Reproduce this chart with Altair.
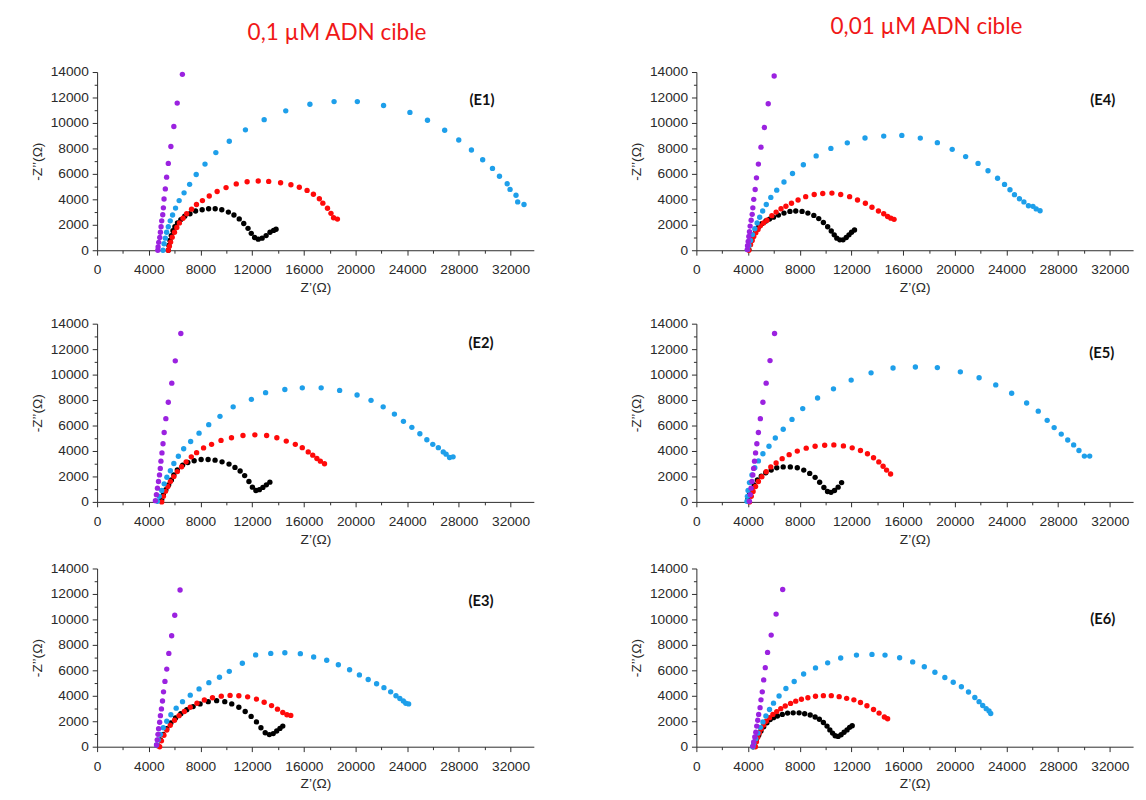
import altair as alt
import pandas as pd

# ---------------- data ----------------
SERIES = ["black", "red", "blue", "violet"]
COLORS = ["#000000", "#FF0A0A", "#1E9FEA", "#9B22E0"]

X_MAJOR = [0, 4000, 8000, 12000, 16000, 20000, 24000, 28000, 32000]
X_MINOR = [2000, 6000, 10000, 14000, 18000, 22000, 26000, 30000]
Y_MAJOR = [0, 2000, 4000, 6000, 8000, 10000, 12000, 14000]
Y_MINOR = [1000, 3000, 5000, 7000, 9000, 11000, 13000]

# ---- E1 ----
E1_black_x = [5510, 5560, 5640, 5740, 5870, 6020, 6220, 6480, 6780, 7190, 7620, 8130, 8630, 9140, 9650, 10160, 10590, 11000, 11350, 11680, 11930, 12190, 12470, 12770, 13080, 13380, 13660, 13850]
E1_black_y = [0, 380, 770, 1150, 1540, 1850, 2150, 2410, 2670, 2870, 3080, 3180, 3260, 3260, 3180, 3000, 2770, 2460, 2100, 1720, 1330, 1000, 870, 950, 1150, 1410, 1560, 1650]
E1_red_x = [5510, 5590, 5690, 5810, 5990, 6170, 6370, 6650, 6930, 7310, 7690, 8150, 8680, 9290, 9980, 10770, 11610, 12470, 13280, 14200, 15000, 15650, 16250, 16740, 17200, 17470, 17830, 18100, 18300, 18600]
E1_red_y = [0, 310, 640, 1030, 1410, 1790, 2150, 2510, 2870, 3230, 3590, 3900, 4260, 4620, 4920, 5210, 5380, 5440, 5410, 5300, 5150, 4950, 4700, 4400, 4050, 3700, 3300, 2900, 2550, 2450]
E1_blue_x = [5100, 5180, 5280, 5380, 5510, 5660, 5840, 6070, 6350, 6730, 7160, 7670, 8350, 9190, 10230, 11480, 12930, 14600, 16470, 18340, 20140, 22170, 24210, 25570, 26900, 27990, 28970, 29840, 30600, 31140, 31740, 31960, 32420, 32550, 33040]
E1_blue_y = [0, 510, 950, 1410, 1850, 2310, 2770, 3310, 3900, 4510, 5180, 5950, 6770, 7670, 8560, 9460, 10260, 10950, 11470, 11680, 11680, 11370, 10830, 10210, 9430, 8660, 7880, 7110, 6430, 5810, 5220, 4780, 4320, 3800, 3590]
E1_violet_x = [4700, 4720, 4770, 4850, 4900, 4950, 5000, 5080, 5130, 5180, 5280, 5380, 5510, 5710, 5940, 6200, 6600]
E1_violet_y = [0, 260, 620, 1000, 1410, 1850, 2310, 2790, 3330, 4030, 4820, 5740, 6820, 8150, 9720, 11560, 13820]

# ---- E2 ----
E2_black_x = [5000, 5130, 5320, 5540, 5750, 5940, 6210, 6620, 7020, 7510, 8050, 8590, 9130, 9670, 10210, 10670, 11070, 11420, 11750, 12020, 12290, 12560, 12830, 13100, 13370]
E2_black_y = [180, 570, 960, 1340, 1730, 2120, 2510, 2890, 3100, 3230, 3330, 3330, 3280, 3150, 2970, 2710, 2430, 2070, 1600, 1160, 900, 960, 1140, 1340, 1550]
E2_red_x = [5000, 5130, 5290, 5480, 5670, 5940, 6210, 6540, 6890, 7290, 7700, 8240, 8860, 9590, 10400, 11290, 12210, 13120, 13910, 14640, 15340, 15880, 16340, 16690, 17010, 17280, 17600]
E2_red_y = [0, 440, 830, 1210, 1600, 1990, 2380, 2760, 3150, 3540, 3870, 4240, 4520, 4830, 5040, 5220, 5270, 5220, 5040, 4780, 4520, 4260, 3930, 3670, 3410, 3200, 3000]
E2_blue_x = [4670, 4810, 5000, 5190, 5400, 5670, 5940, 6290, 6700, 7240, 7890, 8640, 9510, 10530, 11940, 13040, 14530, 15880, 17340, 18770, 20120, 21200, 22140, 23010, 23710, 24360, 24980, 25520, 25980, 26410, 26790, 27010, 27280, 27550]
E2_blue_y = [50, 440, 900, 1420, 1940, 2450, 3020, 3590, 4180, 4750, 5400, 6070, 6720, 7470, 8060, 8580, 8830, 8960, 8960, 8760, 8400, 7980, 7470, 6900, 6330, 5860, 5350, 4880, 4520, 4260, 3930, 3750, 3490, 3540]
E2_violet_x = [4510, 4590, 4670, 4750, 4830, 4890, 4940, 5020, 5100, 5190, 5320, 5510, 5780, 6050, 6480]
E2_violet_y = [100, 570, 1080, 1600, 2120, 2630, 3200, 3850, 4570, 5450, 6540, 7830, 9330, 11080, 13230]

# ---- E3 ----
E3_black_x = [4710, 4900, 5120, 5390, 5710, 6070, 6480, 6940, 7430, 7970, 8600, 9250, 9880, 10420, 10970, 11460, 11920, 12330, 12680, 13010, 13330, 13630, 13900, 14150, 14370]
E3_black_y = [80, 540, 970, 1410, 1870, 2260, 2590, 2900, 3150, 3360, 3540, 3620, 3540, 3360, 3100, 2770, 2380, 1950, 1490, 1100, 950, 1030, 1230, 1440, 1620]
E3_red_x = [4840, 4980, 5170, 5390, 5660, 5990, 6340, 6750, 7210, 7730, 8300, 8930, 9610, 10290, 10970, 11650, 12330, 12930, 13500, 13960, 14370, 14690, 14990]
E3_red_y = [0, 460, 900, 1310, 1690, 2080, 2440, 2770, 3100, 3410, 3670, 3850, 3970, 4030, 4000, 3920, 3740, 3490, 3230, 2950, 2690, 2510, 2460]
E3_blue_x = [4600, 4730, 4900, 5120, 5390, 5710, 6120, 6610, 7210, 7890, 8650, 9470, 10230, 11240, 12270, 13440, 14530, 15730, 16760, 17770, 18670, 19540, 20300, 20980, 21630, 22200, 22720, 23130, 23430, 23700, 23890, 24110]
E3_blue_y = [130, 540, 970, 1490, 2000, 2510, 3030, 3540, 4050, 4540, 5030, 5460, 5920, 6560, 7210, 7330, 7380, 7310, 7050, 6790, 6440, 6050, 5640, 5280, 4950, 4640, 4310, 4000, 3790, 3590, 3410, 3360]
E3_violet_x = [4600, 4650, 4710, 4760, 4840, 4900, 4980, 5060, 5140, 5250, 5390, 5550, 5770, 6010, 6420]
E3_violet_y = [130, 540, 970, 1410, 1920, 2440, 2970, 3590, 4310, 5130, 6100, 7330, 8720, 10330, 12310]

# ---- E4 ----
E4_black_x = [4060, 4150, 4260, 4400, 4580, 4800, 5060, 5380, 5660, 5970, 6350, 6780, 7240, 7690, 8180, 8630, 9090, 9470, 9830, 10160, 10440, 10670, 10870, 11100, 11350, 11600, 11810, 12010, 12240]
E4_black_y = [50, 450, 820, 1180, 1520, 1820, 2080, 2300, 2450, 2600, 2760, 2920, 3050, 3080, 3050, 2920, 2740, 2490, 2180, 1850, 1510, 1210, 950, 820, 820, 1000, 1210, 1410, 1590]
E4_red_x = [4060, 4190, 4320, 4440, 4600, 4770, 4950, 5200, 5460, 5840, 6170, 6550, 6930, 7360, 7870, 8460, 9120, 9780, 10490, 11170, 11860, 12470, 13080, 13590, 14090, 14500, 14800, 15050, 15300]
E4_red_y = [0, 440, 770, 1080, 1380, 1640, 1920, 2150, 2360, 2720, 3000, 3260, 3460, 3690, 3950, 4210, 4380, 4460, 4490, 4380, 4210, 3950, 3690, 3380, 3080, 2870, 2650, 2520, 2430]
E4_blue_x = [3960, 4060, 4190, 4340, 4520, 4700, 4900, 5130, 5410, 5760, 6220, 6780, 7440, 8280, 9270, 10410, 11680, 13050, 14500, 15900, 17330, 18650, 19800, 20840, 21800, 22570, 23310, 23850, 24270, 24620, 25000, 25350, 25700, 26050, 26300, 26600]
E4_blue_y = [50, 380, 770, 1230, 1690, 2150, 2590, 3080, 3590, 4150, 4720, 5360, 6030, 6720, 7410, 8000, 8440, 8820, 8970, 9020, 8810, 8450, 7930, 7360, 6820, 6250, 5660, 5170, 4750, 4370, 4050, 3800, 3500, 3450, 3250, 3100]
E4_violet_x = [3940, 3960, 4010, 4060, 4110, 4160, 4240, 4320, 4370, 4440, 4550, 4650, 4800, 5000, 5260, 5560, 6020]
E4_violet_y = [50, 360, 690, 1080, 1460, 1900, 2360, 2820, 3330, 4000, 4770, 5690, 6770, 8100, 9640, 11510, 13690]

# ---- E5 ----
E5_black_x = [3980, 4110, 4280, 4470, 4720, 5020, 5370, 5790, 6220, 6720, 7270, 7810, 8310, 8770, 9190, 9540, 9870, 10150, 10420, 10690, 10970, 11240]
E5_black_y = [180, 570, 950, 1340, 1720, 2030, 2290, 2500, 2680, 2750, 2750, 2680, 2500, 2240, 1930, 1540, 1130, 820, 750, 900, 1160, 1520]
E5_red_x = [4110, 4250, 4390, 4580, 4800, 5070, 5400, 5760, 6170, 6640, 7180, 7810, 8500, 9190, 9930, 10640, 11380, 12060, 12700, 13240, 13710, 14120, 14450, 14720, 15030]
E5_red_y = [0, 440, 820, 1210, 1600, 1980, 2370, 2750, 3060, 3400, 3710, 3990, 4220, 4370, 4450, 4480, 4400, 4250, 4040, 3780, 3470, 3140, 2800, 2500, 2190]
E5_blue_x = [3920, 3950, 4000, 4110, 4300, 4520, 4800, 5150, 5620, 6110, 6720, 7400, 8230, 9380, 10610, 11980, 13520, 15220, 16950, 18650, 20430, 21880, 23170, 24400, 25560, 26460, 27150, 27690, 28240, 28740, 29200, 29610, 30030, 30440]
E5_blue_y = [50, 440, 900, 1520, 2110, 2680, 3220, 3780, 4370, 5020, 5710, 6480, 7330, 8160, 8880, 9570, 10140, 10520, 10600, 10550, 10220, 9750, 9190, 8540, 7770, 7130, 6410, 5840, 5330, 4860, 4480, 4040, 3600, 3600]
E5_violet_x = [4100, 4170, 4230, 4300, 4370, 4430, 4500, 4580, 4680, 4800, 4950, 5150, 5400, 5700, 6050]
E5_violet_y = [50, 570, 1080, 1600, 2120, 2630, 3200, 3850, 4570, 5450, 6540, 7830, 9330, 11100, 13230]

# ---- E6 ----
E6_black_x = [4390, 4490, 4650, 4820, 5000, 5210, 5460, 5710, 5970, 6270, 6650, 7060, 7490, 7950, 8380, 8810, 9190, 9520, 9830, 10110, 10330, 10540, 10740, 10970, 11200, 11430, 11660, 11860, 12060]
E6_black_y = [0, 250, 560, 910, 1240, 1570, 1880, 2130, 2280, 2410, 2540, 2640, 2660, 2660, 2590, 2490, 2330, 2160, 1900, 1620, 1320, 1070, 860, 810, 940, 1140, 1320, 1520, 1650]
E6_red_x = [4570, 4650, 4750, 4880, 5030, 5210, 5410, 5660, 5920, 6220, 6530, 6880, 7290, 7690, 8130, 8630, 9220, 9830, 10440, 11050, 11630, 12190, 12700, 13200, 13710, 14140, 14550, 14800]
E6_red_y = [0, 380, 740, 1070, 1390, 1700, 2000, 2280, 2540, 2760, 2990, 3200, 3400, 3580, 3730, 3850, 3960, 4010, 4010, 3930, 3800, 3680, 3470, 3220, 2920, 2640, 2330, 2200]
E6_blue_x = [4370, 4440, 4600, 4770, 4950, 5150, 5380, 5660, 5970, 6400, 6930, 7570, 8300, 9220, 10160, 11170, 12390, 13590, 14600, 15730, 16740, 17640, 18460, 19230, 19880, 20510, 21060, 21550, 21880, 22160, 22430, 22650, 22780]
E6_blue_y = [0, 250, 630, 1070, 1520, 1950, 2410, 2920, 3420, 3980, 4570, 5120, 5710, 6190, 6590, 6970, 7200, 7250, 7200, 6990, 6660, 6280, 5850, 5440, 5060, 4710, 4300, 3870, 3540, 3240, 2990, 2810, 2610]
E6_violet_x = [4370, 4440, 4520, 4600, 4670, 4750, 4820, 4930, 5000, 5100, 5210, 5330, 5510, 5790, 6170, 6680]
E6_violet_y = [50, 380, 760, 1140, 1620, 2080, 2540, 3070, 3680, 4310, 5250, 6210, 7410, 8770, 10420, 12350]

DATA = {
    "E1": {"black": (E1_black_x, E1_black_y), "red": (E1_red_x, E1_red_y), "blue": (E1_blue_x, E1_blue_y), "violet": (E1_violet_x, E1_violet_y)},
    "E2": {"black": (E2_black_x, E2_black_y), "red": (E2_red_x, E2_red_y), "blue": (E2_blue_x, E2_blue_y), "violet": (E2_violet_x, E2_violet_y)},
    "E3": {"black": (E3_black_x, E3_black_y), "red": (E3_red_x, E3_red_y), "blue": (E3_blue_x, E3_blue_y), "violet": (E3_violet_x, E3_violet_y)},
    "E4": {"black": (E4_black_x, E4_black_y), "red": (E4_red_x, E4_red_y), "blue": (E4_blue_x, E4_blue_y), "violet": (E4_violet_x, E4_violet_y)},
    "E5": {"black": (E5_black_x, E5_black_y), "red": (E5_red_x, E5_red_y), "blue": (E5_blue_x, E5_blue_y), "violet": (E5_violet_x, E5_violet_y)},
    "E6": {"black": (E6_black_x, E6_black_y), "red": (E6_red_x, E6_red_y), "blue": (E6_blue_x, E6_blue_y), "violet": (E6_violet_x, E6_violet_y)},
}

COL_TITLES = ["0,1 µM ADN cible", "0,01 µM ADN cible"]
X_TITLE = "Z’(Ω)"
Y_TITLE = "-Z’’(Ω)"

W, H = 446, 182
X_DOMAIN = [0, 33800]
Y_DOMAIN = [0, 14000]

AXIS_FONT = "Liberation Sans, Arial, sans-serif"
AXIS_COLOR = "#2a2a2a"


def frame(pid):
    rows = []
    for k, s in enumerate(SERIES):
        xs, ys = DATA[pid][s]
        for xv, yv in zip(xs, ys):
            rows.append({"series": s, "ord": k, "x": xv, "y": yv})
    return pd.DataFrame(rows)


def panel(pid, label_px, title=None, title_dx=0, title_dy=0):
    df = frame(pid)
    xs = alt.Scale(domain=X_DOMAIN, nice=False, zero=False)
    ys = alt.Scale(domain=Y_DOMAIN, nice=False, zero=False)
    minor = alt.Chart(df).mark_circle(opacity=0).encode(
        x=alt.X("x:Q", scale=xs, axis=alt.Axis(orient="bottom", values=X_MINOR, labels=False,
                                                domain=False, tickSize=3, title=None, grid=False,
                                                tickColor=AXIS_COLOR)),
        y=alt.Y("y:Q", scale=ys, axis=alt.Axis(orient="left", values=Y_MINOR, labels=False,
                                                domain=False, tickSize=3, title=None, grid=False,
                                                tickColor=AXIS_COLOR)),
    )
    pts = alt.Chart(df).mark_circle(size=30, opacity=1).encode(
        x=alt.X("x:Q", scale=xs, axis=alt.Axis(orient="bottom", values=X_MAJOR, title=X_TITLE, format="d",
                                                tickSize=5, labelPadding=8, titlePadding=4,
                                                labelFont=AXIS_FONT, labelFontSize=14, titleFont=AXIS_FONT,
                                                labelFlush=False, labelOverlap=False, grid=False)),
        y=alt.Y("y:Q", scale=ys, axis=alt.Axis(orient="left", values=Y_MAJOR, title=Y_TITLE, format="d",
                                                tickSize=5, labelPadding=4, titlePadding=6,
                                                labelFont=AXIS_FONT, labelFontSize=14, titleFont=AXIS_FONT,
                                                labelFlush=False, labelOverlap=False, grid=False)),
        color=alt.Color("series:N", scale=alt.Scale(domain=SERIES, range=COLORS), legend=None),
        order=alt.Order("ord:Q"),
    )
    lbl = alt.Chart(pd.DataFrame({"t": [f"({pid})"]})).mark_text(
        font="Lato", fontSize=15, fontWeight="bold", color="#111"
    ).encode(x=alt.value(label_px[0]), y=alt.value(label_px[1]), text="t:N")
    ch = alt.layer(minor, pts, lbl).resolve_axis(x="independent", y="independent").properties(width=W, height=H)
    if title:
        ch = ch.properties(title=alt.TitleParams(text=title, font="Lato", fontSize=23, fontWeight="normal",
                                                 color="#F01818", anchor="middle", dx=title_dx, dy=title_dy,
                                                 offset=21))
    return ch


p1 = panel("E1", (393, 29), COL_TITLES[0], 22, 0)
p4 = panel("E4", (415, 29), COL_TITLES[1], 12, -6)
p2 = panel("E2", (392, 20))
p5 = panel("E5", (414, 30))
p3 = panel("E3", (392, 33))
p6 = panel("E6", (415, 52))

row1 = alt.hconcat(p1, p4, spacing=98)
row2 = alt.hconcat(p2, p5, spacing=98)
row3 = alt.hconcat(p3, p6, spacing=98)

chart = alt.vconcat(
    row1,
    alt.vconcat(row2, row3, spacing=16),
    spacing=23,
).properties(padding={"left": 23, "top": 0, "right": 5, "bottom": 0}).configure_axis(
    labelFont=AXIS_FONT, labelFontSize=14, labelColor=AXIS_COLOR,
    titleFont=AXIS_FONT, titleFontSize=14, titleFontWeight="normal", titleColor=AXIS_COLOR,
    domainColor=AXIS_COLOR, tickColor=AXIS_COLOR, domainWidth=1, tickWidth=1,
).configure_view(stroke=None)

chart.save("out.html", embed_options={"renderer": "svg", "actions": False})
